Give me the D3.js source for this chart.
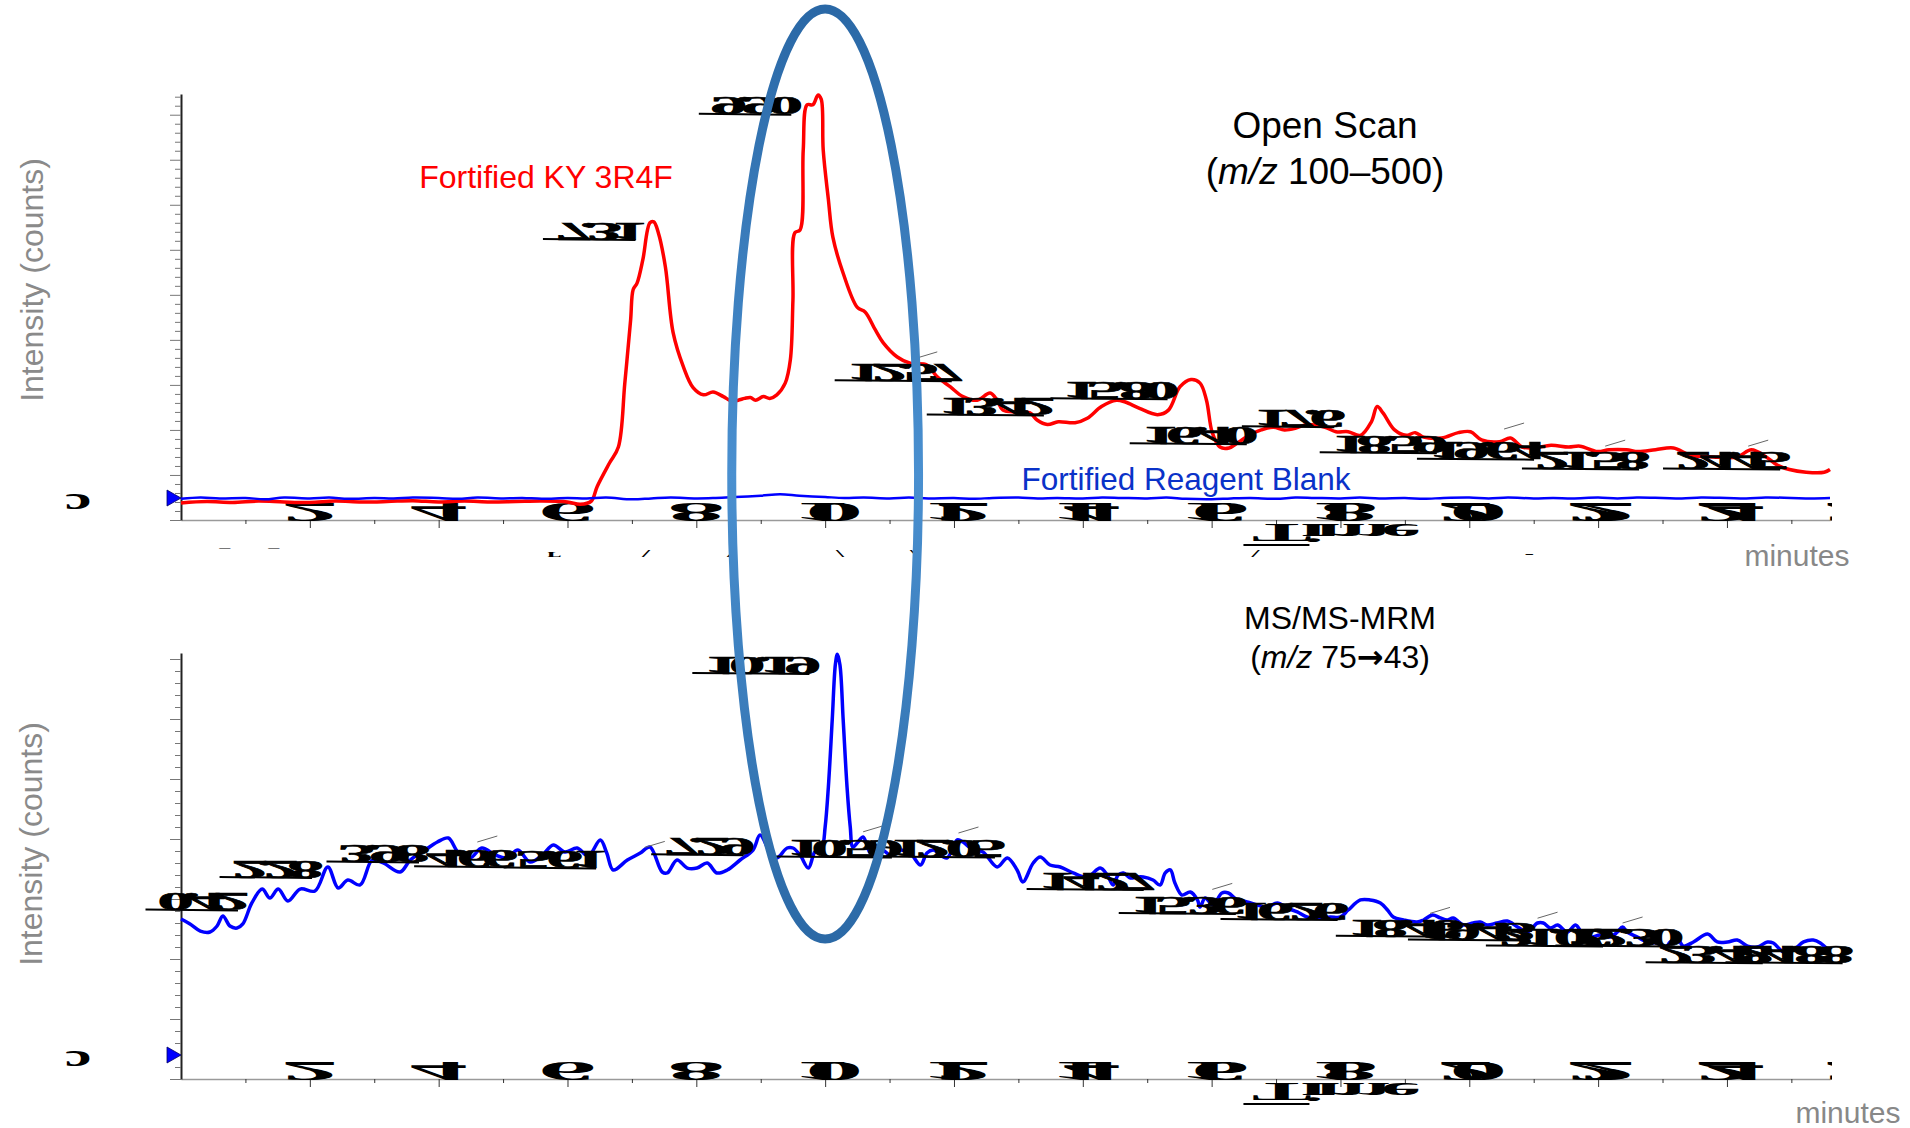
<!DOCTYPE html>
<html>
<head>
<meta charset="utf-8">
<script src="https://cdn.jsdelivr.net/npm/d3@7"></script>
<style>
  body { margin: 0; background: #fff; }
  svg { display: block; font-family: "Liberation Sans", Arial, sans-serif; }
  .garble { font-family: "Liberation Serif", "DejaVu Serif", serif; font-weight: bold; fill: #000; }
</style>
</head>
<body>
<svg id="chart" width="1910" height="1128"></svg>
<script>
// x tick labels (minutes)
const xTickLabels = ["2", "4", "6", "8", "10", "12", "14", "16", "18", "20", "22", "24", "26"];

// Open scan, fortified KY 3R4F  [minutes, intensity]
const openScanSample = [
  [0, 1.9], [0.4, 2.05], [0.8, 1.95], [1.2, 2.1], [1.6, 2.0], [2.0, 1.95], [2.4, 2.1], [2.8, 2.0],
  [3.2, 2.05], [3.6, 2.15], [4.0, 2.0], [4.4, 2.1], [4.8, 2.0], [5.2, 2.05], [5.6, 2.1], [6.0, 2.0],
  [6.2, 1.75], [6.37, 2.1], [6.46, 3.7], [6.65, 6.3], [6.79, 8.1], [6.89, 15.2], [6.98, 22.2],
  [7.02, 25.6], [7.08, 26.3], [7.17, 28.9], [7.28, 33.0], [7.34, 33.1], [7.41, 31.9], [7.52, 28.1],
  [7.64, 20.8], [7.80, 17.0], [7.95, 14.7], [8.11, 13.9], [8.26, 14.2], [8.42, 13.7], [8.55, 13.2],
  [8.65, 13.3], [8.75, 13.5], [8.84, 13.6], [8.92, 13.3], [9.04, 13.7], [9.14, 13.5], [9.25, 13.9],
  [9.38, 15.2], [9.46, 17.8], [9.50, 24.4], [9.53, 31.9], [9.61, 32.2], [9.66, 41.1], [9.72, 46.1],
  [9.81, 46.1], [9.89, 47.2], [9.94, 46.7], [9.97, 41.1], [10.05, 35.6], [10.12, 31.4], [10.28, 27.4],
  [10.50, 23.6], [10.62, 23.1], [10.78, 21.1], [10.90, 19.7], [11.12, 18.1], [11.32, 17.4], [11.58, 17.2],
  [11.74, 15.9], [11.94, 14.8], [12.14, 13.7], [12.36, 13.3], [12.56, 14.1], [12.67, 13.3], [12.76, 12.2],
  [12.98, 12.0], [13.18, 11.9], [13.29, 11.1], [13.45, 10.6], [13.62, 10.9], [13.88, 10.8], [14.07, 11.3],
  [14.29, 12.6], [14.52, 13.3], [14.66, 13.1], [14.88, 12.4], [15.16, 11.7], [15.33, 12.2], [15.51, 14.8],
  [15.68, 15.6], [15.82, 15.2], [15.92, 13.3], [16.01, 9.7], [16.13, 8.1], [16.27, 8.0], [16.41, 8.6],
  [16.58, 9.4], [16.77, 10.0], [16.96, 10.3], [17.13, 10.0], [17.31, 10.2], [17.48, 10.6], [17.76, 10.3],
  [17.93, 9.8], [18.12, 9.8], [18.31, 9.4], [18.48, 10.9], [18.57, 12.6], [18.66, 11.9], [18.84, 10.0],
  [19.02, 9.4], [19.16, 9.7], [19.29, 9.2], [19.57, 9.1], [19.83, 9.7], [20.02, 9.8], [20.19, 8.9],
  [20.47, 8.7], [20.64, 9.1], [20.82, 8.1], [21.01, 8.0], [21.27, 8.3], [21.54, 8.1], [21.72, 8.2],
  [21.99, 7.6], [22.17, 7.8], [22.44, 7.8], [22.62, 7.6], [22.89, 7.8], [23.17, 8.0], [23.43, 7.2],
  [23.79, 7.0], [24.16, 7.0], [24.38, 7.8], [24.61, 7.0], [24.78, 6.1], [24.97, 5.6], [25.23, 5.3],
  [25.51, 5.3], [25.6, 5.6]
];

// Open scan, fortified reagent blank
const openScanBlank = [
  [0, 2.35], [0.3, 2.5], [0.6, 2.4], [1, 2.45], [1.3, 2.3], [1.6, 2.5], [2, 2.4], [2.3, 2.5],
  [2.6, 2.35], [3, 2.45], [3.3, 2.4], [3.6, 2.5], [4, 2.45], [4.3, 2.35], [4.6, 2.5], [5, 2.4],
  [5.3, 2.45], [5.6, 2.35], [6, 2.45], [6.3, 2.4], [6.6, 2.5], [7, 2.3], [7.3, 2.4], [7.6, 2.5],
  [8, 2.4], [8.3, 2.45], [8.6, 2.55], [9, 2.7], [9.3, 2.85], [9.6, 2.7], [10, 2.55], [10.3, 2.45],
  [10.6, 2.5], [11, 2.4], [11.3, 2.5], [11.6, 2.4], [12, 2.45], [12.3, 2.35], [12.6, 2.45], [13, 2.5],
  [13.3, 2.4], [13.6, 2.45], [14, 2.4], [14.3, 2.5], [14.6, 2.45], [15, 2.4], [15.3, 2.5], [15.6, 2.35],
  [16, 2.3], [16.3, 2.4], [16.6, 2.45], [17, 2.35], [17.3, 2.5], [17.6, 2.45], [18, 2.4], [18.3, 2.5],
  [18.6, 2.4], [19, 2.45], [19.3, 2.35], [19.6, 2.45], [20, 2.5], [20.3, 2.4], [20.6, 2.5], [21, 2.4],
  [21.3, 2.45], [21.6, 2.4], [22, 2.5], [22.3, 2.4], [22.6, 2.5], [23, 2.45], [23.3, 2.4], [23.6, 2.5],
  [24, 2.45], [24.3, 2.4], [24.6, 2.5], [25, 2.45], [25.3, 2.4], [25.6, 2.45]
];

// MS/MS-MRM m/z 75 -> 43
const mrmSample = [
  [0, 13.33], [0.14, 12.92], [0.30, 12.33], [0.45, 12.25], [0.56, 12.75], [0.65, 13.58], [0.76, 12.75],
  [0.87, 12.58], [0.96, 12.92], [1.10, 14.67], [1.26, 15.83], [1.38, 15.08], [1.51, 15.83], [1.66, 14.83],
  [1.85, 15.83], [2.08, 15.67], [2.28, 17.67], [2.44, 15.92], [2.59, 16.58], [2.78, 16.17], [2.97, 18.25],
  [3.14, 18.0], [3.40, 17.25], [3.56, 18.25], [3.79, 19.08], [3.98, 19.75], [4.15, 20.08], [4.30, 18.92],
  [4.49, 18.42], [4.67, 19.25], [4.88, 18.67], [5.06, 18.42], [5.23, 19.08], [5.42, 18.08], [5.61, 18.67],
  [5.78, 19.5], [5.96, 18.92], [6.15, 19.25], [6.32, 18.58], [6.51, 19.92], [6.61, 18.83], [6.71, 17.42],
  [6.93, 18.25], [7.13, 18.83], [7.28, 19.33], [7.47, 17.25], [7.55, 17.17], [7.70, 18.25], [7.86, 17.58],
  [8.01, 17.58], [8.17, 18.0], [8.32, 17.17], [8.48, 17.42], [8.68, 18.25], [8.88, 19.08], [8.99, 20.33],
  [9.15, 18.83], [9.25, 18.42], [9.41, 19.25], [9.50, 19.25], [9.61, 18.67], [9.74, 17.58], [9.84, 18.92],
  [9.95, 19.33], [10.0, 21.0], [10.05, 24.33], [10.11, 29.92], [10.16, 34.6], [10.19, 35.4], [10.23, 34.5],
  [10.28, 29.92], [10.34, 24.33], [10.39, 21.0], [10.43, 19.33], [10.51, 19.75], [10.59, 20.17],
  [10.70, 18.83], [10.78, 18.67], [10.89, 19.08], [11.01, 18.67], [11.16, 19.08], [11.32, 18.83],
  [11.48, 17.83], [11.58, 18.83], [11.68, 19.08], [11.89, 18.42], [12.05, 19.92], [12.14, 19.75],
  [12.30, 19.08], [12.45, 18.92], [12.67, 17.67], [12.83, 18.42], [12.98, 17.42], [13.07, 16.42],
  [13.23, 18.0], [13.34, 18.5], [13.49, 17.83], [13.65, 17.67], [13.85, 17.17], [14.07, 16.83],
  [14.27, 17.58], [14.38, 17.0], [14.47, 16.17], [14.55, 17.0], [14.63, 17.17], [14.74, 16.75],
  [14.84, 16.83], [14.94, 16.83], [15.09, 16.58], [15.20, 16.17], [15.28, 17.17], [15.36, 17.42],
  [15.43, 16.33], [15.54, 15.33], [15.67, 15.58], [15.78, 14.92], [15.82, 14.33], [15.90, 15.08],
  [16.02, 14.5], [16.16, 15.5], [16.26, 15.5], [16.40, 14.92], [16.55, 14.75], [16.71, 14.5],
  [16.86, 14.33], [17.02, 14.67], [17.17, 14.25], [17.33, 13.92], [17.48, 13.5], [17.69, 13.42],
  [17.84, 13.5], [18.0, 13.5], [18.12, 14.08], [18.31, 14.92], [18.46, 14.92], [18.62, 14.67],
  [18.73, 14.08], [18.82, 13.5], [18.98, 13.25], [19.19, 13.08], [19.29, 13.25], [19.43, 13.67],
  [19.55, 13.42], [19.66, 13.25], [19.75, 13.42], [19.91, 12.83], [20.06, 13.0], [20.17, 13.08],
  [20.28, 12.83], [20.43, 13.0], [20.59, 13.17], [20.75, 12.67], [20.90, 12.25], [21.06, 13.0],
  [21.15, 13.0], [21.26, 12.58], [21.37, 12.83], [21.52, 12.25], [21.65, 12.83], [21.75, 12.17],
  [21.88, 11.83], [22.03, 12.0], [22.19, 11.83], [22.30, 12.25], [22.38, 12.67], [22.45, 12.25],
  [22.61, 11.83], [22.76, 11.42], [22.92, 11.33], [23.04, 10.92], [23.12, 11.42], [23.23, 11.75],
  [23.32, 11.08], [23.48, 11.42], [23.70, 12.08], [23.85, 11.42], [24.01, 11.42], [24.16, 11.58],
  [24.32, 11.08], [24.47, 11.0], [24.63, 11.42], [24.72, 11.33], [24.88, 10.58], [25.03, 10.75],
  [25.19, 11.42], [25.34, 11.58], [25.45, 11.33], [25.57, 10.75]
];

// peak annotations (retention time at label centre, intensity, text)
const openScanPeakTime = [8.85, 6.43, 11.15, 12.58, 14.50, 15.73, 17.28, 18.68, 20.19, 21.82, 24.01];
const openScanPeakLevel = [46.0, 32.1, 16.4, 12.6, 14.4, 9.4, 11.3, 8.4, 7.7, 6.6, 6.6];
const openScanPeakText = ["9.90", "7.31", "12.57", "13.42", "15.80", "16.40", "17.6", "18.59", "19.64", "21.58", "24.45"];
const openScanLeaders = [[11.43, 18.0], [20.54, 10.1], [22.11, 8.2], [24.33, 8.2]];

const mrmPeakTime = [8.94, 0.26, 1.41, 3.07, 4.43, 5.82, 8.11, 10.22, 11.82, 14.13, 15.56, 17.14, 18.93, 20.05, 21.26, 22.34, 23.74, 24.98];
const mrmPeakLevel = [34.5, 14.8, 17.5, 18.8, 18.4, 18.3, 19.4, 19.2, 19.2, 16.5, 14.5, 14.0, 12.6, 12.3, 11.8, 11.8, 10.4, 10.4];
const mrmPeakText = ["10.19", "0.42", "2.28", "3.98", "4.66", "5.61", "7.29", "10.59", "12.05", "14.27", "15.36", "16.26", "18.46", "19.43", "21.06", "22.30", "23.48", "24.88"];
const mrmLeaders = [[4.6, 19.75], [7.20, 19.3], [10.59, 20.6], [12.07, 20.5], [16.01, 15.8], [19.39, 13.8], [21.06, 13.4], [22.38, 13.0]];

// clipped second row of axis text under the open scan axis
const axisFragmentTime = [0.68, 1.44, 5.79, 7.22, 8.54, 10.23, 11.38, 16.68, 20.93];
const axisFragmentText = ["‾", "‾", "ʟ", "/", "/", "\\", "\\", "/", "-"];

const openScanZero = 2.44;
const mrmZero = 2.0;
const axisTitleTime = 17.86;
const highlightTime = 10.0;
const highlightHalfWidth = 1.45;

const svg = d3.select("#chart");
const defs = svg.append("defs");
defs.append("clipPath").attr("id", "tickClip")
  .append("rect").attr("x", 0).attr("y", 0).attr("width", 1832).attr("height", 1128);

const xScale = d3.scaleLinear().domain([0, 25.6]).range([181, 1830]);

class Chromatogram {

  constructor(_config) {
    this.config = {
      top: _config.top,
      bottom: _config.bottom,
      yMax: _config.yMax,
      zero: _config.zero,
      traces: _config.traces,
      peakTime: _config.peakTime,
      peakLevel: _config.peakLevel,
      peakText: _config.peakText,
      leaders: _config.leaders
    };
    this.initVis();
  }

  initVis() {
    let vis = this;

    vis.g = svg.append("g");

    vis.yScale = d3.scaleLinear()
        .domain([0, vis.config.yMax])
        .range([vis.config.bottom, vis.config.top]);

    vis.yAxis = d3.axisLeft(vis.yScale)
        .tickValues(d3.range(0, vis.config.yMax, 1))
        .tickSize(6)
        .tickSizeOuter(0)
        .tickFormat("");

    vis.xAxis = d3.axisBottom(xScale)
        .tickValues(d3.range(1, 26, 1))
        .tickSize(4)
        .tickSizeOuter(0)
        .tickFormat("");

    vis.xAxisGroup = vis.g.append("g")
        .attr("transform", "translate(0," + vis.config.bottom + ")");
    vis.yAxisGroup = vis.g.append("g")
        .attr("transform", "translate(" + xScale(0) + ",0)");

    vis.line = d3.line()
        .x(d => xScale(d[0]))
        .y(d => vis.yScale(d[1]))
        .curve(d3.curveCatmullRom.alpha(0.5));

    vis.updateVis();
  }

  updateVis() {
    let vis = this;

    // Axes
    vis.xAxisGroup.call(vis.xAxis);
    vis.xAxisGroup.select(".domain").attr("stroke", "#9a9a9a").attr("stroke-width", 1.5);
    vis.xAxisGroup.selectAll(".tick line")
        .attr("stroke", "#333")
        .attr("y2", d => d % 2 === 0 ? 8 : 4);

    vis.yAxisGroup.call(vis.yAxis);
    vis.yAxisGroup.select(".domain").attr("stroke", "#222").attr("stroke-width", 2);
    vis.yAxisGroup.selectAll(".tick line")
        .attr("stroke", "#777")
        .attr("x2", d => d % 5 === 0 ? -11 : -6);

    // Garbled (flipped, overlapped) tick labels
    vis.g.append("g")
        .attr("clip-path", "url(#tickClip)")
      .selectAll("text")
        .data(xTickLabels)
      .enter().append("text")
        .attr("class", "garble")
        .attr("font-size", 27)
        .attr("text-anchor", "middle")
        .attr("dominant-baseline", "central")
        .attr("letter-spacing", d => d.length > 1 ? -10.5 : 0)
        .attr("transform", d => "translate(" + (xScale(+d) + (d.length > 1 ? -20 : 0)) + "," +
              (vis.config.bottom - 8) + ") scale(4.3,-1)")
        .text(d => d);

    // Traces
    vis.g.selectAll(".trace")
        .data(vis.config.traces)
      .enter().append("path")
        .attr("class", "trace")
        .attr("fill", "none")
        .attr("stroke", d => d.color)
        .attr("stroke-width", d => d.width)
        .attr("stroke-linejoin", "round")
        .attr("d", d => vis.line(d.values));

    // Zero marker
    let zy = vis.yScale(vis.config.zero);
    let x0 = xScale(0);
    vis.g.append("path")
        .attr("d", "M" + (x0 - 14) + "," + (zy - 8) + "L" + x0 + "," + zy + "L" + (x0 - 14) + "," + (zy + 8) + "Z")
        .attr("fill", "#0000ff")
        .attr("stroke", "#000066")
        .attr("stroke-width", 0.8);
    vis.g.append("text")
        .attr("class", "garble")
        .attr("font-size", 40)
        .attr("text-anchor", "middle")
        .attr("dominant-baseline", "central")
        .attr("transform", "translate(" + (x0 - 103) + "," + zy + ") scale(1.5,0.8)")
        .text("ɔ");

    // Leader lines
    vis.g.selectAll(".leader")
        .data(vis.config.leaders)
      .enter().append("line")
        .attr("class", "leader")
        .attr("x1", d => xScale(d[0]))
        .attr("y1", d => vis.yScale(d[1]))
        .attr("x2", d => xScale(d[0]) + 20)
        .attr("y2", d => vis.yScale(d[1]) - 6)
        .attr("stroke", "#666")
        .attr("stroke-width", 1);

    // Peak labels
    vis.config.peakText.forEach((s, i) => {
      let cx = xScale(vis.config.peakTime[i]);
      let cy = vis.yScale(vis.config.peakLevel[i]);
      let t = vis.g.append("text")
          .attr("class", "garble")
          .attr("font-size", 25)
          .attr("text-anchor", "middle")
          .attr("dominant-baseline", "central")
          .attr("letter-spacing", -4)
          .attr("stroke", "#000")
          .attr("stroke-width", 0.6)
          .attr("transform", "translate(" + cx + "," + cy + ") scale(2.9,-1)")
          .text(s);
      let w = t.node().getComputedTextLength() * 2.9;
      vis.g.append("line")
          .attr("x1", cx - w / 2 - 12)
          .attr("y1", cy + 8)
          .attr("x2", cx + w / 2)
          .attr("y2", cy + 9)
          .attr("stroke", "#000")
          .attr("stroke-width", 2);
    });

    // Garbled axis title
    let ty = vis.config.bottom + 13;
    let tx = xScale(axisTitleTime);
    vis.g.append("text")
        .attr("class", "garble")
        .attr("font-size", 28)
        .attr("text-anchor", "middle")
        .attr("dominant-baseline", "central")
        .attr("letter-spacing", -3)
        .attr("transform", "translate(" + tx + "," + ty + ") scale(3.2,-0.9)")
        .text("Time");
    vis.g.append("line")
        .attr("x1", tx - 88).attr("y1", ty + 12)
        .attr("x2", tx - 22).attr("y2", ty + 12)
        .attr("stroke", "#000").attr("stroke-width", 2);
  }
}

const openScan = new Chromatogram({
  top: 94, bottom: 520, yMax: 47.3, zero: openScanZero,
  traces: [
    { values: openScanSample, color: "#ff0000", width: 3.5 },
    { values: openScanBlank, color: "#0000ff", width: 2.5 }
  ],
  peakTime: openScanPeakTime, peakLevel: openScanPeakLevel, peakText: openScanPeakText,
  leaders: openScanLeaders
});

const mrm = new Chromatogram({
  top: 653, bottom: 1079, yMax: 35.5, zero: mrmZero,
  traces: [ { values: mrmSample, color: "#0000ff", width: 3.5 } ],
  peakTime: mrmPeakTime, peakLevel: mrmPeakLevel, peakText: mrmPeakText,
  leaders: mrmLeaders
});

// clipped fragments under the open scan axis
svg.append("g").selectAll("text")
    .data(axisFragmentText)
  .enter().append("text")
    .attr("class", "garble")
    .attr("font-size", 18)
    .attr("text-anchor", "middle")
    .attr("dominant-baseline", "central")
    .attr("transform", (d, i) => "translate(" + xScale(axisFragmentTime[i]) + ",554) scale(1.6,0.6)")
    .text(d => d);

// Titles and labels
svg.append("text")
    .attr("x", 1325).attr("y", 125)
    .attr("text-anchor", "middle").attr("dominant-baseline", "central")
    .attr("font-size", 37).attr("fill", "#000")
    .text("Open Scan");
const title1b = svg.append("text")
    .attr("x", 1325).attr("y", 171)
    .attr("text-anchor", "middle").attr("dominant-baseline", "central")
    .attr("font-size", 37).attr("fill", "#000");
title1b.append("tspan").text("(");
title1b.append("tspan").attr("font-style", "italic").text("m/z");
title1b.append("tspan").text(" 100–500)");

svg.append("text")
    .attr("x", 1340).attr("y", 618)
    .attr("text-anchor", "middle").attr("dominant-baseline", "central")
    .attr("font-size", 32).attr("fill", "#000")
    .text("MS/MS-MRM");
const title2b = svg.append("text")
    .attr("x", 1340).attr("y", 657)
    .attr("text-anchor", "middle").attr("dominant-baseline", "central")
    .attr("font-size", 32).attr("fill", "#000");
title2b.append("tspan").text("(");
title2b.append("tspan").attr("font-style", "italic").text("m/z");
title2b.append("tspan").text(" 75");
title2b.append("tspan").attr("font-family", "DejaVu Sans").attr("font-weight", "bold").text("→");
title2b.append("tspan").text("43)");

svg.append("text")
    .attr("x", 546).attr("y", 177)
    .attr("text-anchor", "middle").attr("dominant-baseline", "central")
    .attr("font-size", 32).attr("fill", "#ff0000")
    .text("Fortified KY 3R4F");

svg.append("text")
    .attr("x", 1186).attr("y", 479)
    .attr("text-anchor", "middle").attr("dominant-baseline", "central")
    .attr("font-size", 31.5).attr("fill", "#0a32c8")
    .text("Fortified Reagent Blank");

[[32, 280], [31, 844]].forEach(p => {
  svg.append("text")
      .attr("transform", "translate(" + p[0] + "," + p[1] + ") rotate(-90)")
      .attr("text-anchor", "middle").attr("dominant-baseline", "central")
      .attr("font-size", 32).attr("fill", "#8a8a8a")
      .text("Intensity (counts)");
});

[[1797, 555], [1848, 1112]].forEach(p => {
  svg.append("text")
      .attr("x", p[0]).attr("y", p[1])
      .attr("text-anchor", "middle").attr("dominant-baseline", "central")
      .attr("font-size", 30).attr("fill", "#888")
      .text("minutes");
});

// Highlight ellipse around the 10 min peak
const grad = defs.append("linearGradient")
    .attr("id", "ringGrad")
    .attr("gradientUnits", "userSpaceOnUse")
    .attr("x1", 0).attr("y1", 9).attr("x2", 0).attr("y2", 940);
grad.append("stop").attr("offset", "0%").attr("stop-color", "#2a68a6");
grad.append("stop").attr("offset", "50%").attr("stop-color", "#4a90d0");
grad.append("stop").attr("offset", "100%").attr("stop-color", "#2b69a6");

svg.append("ellipse")
    .attr("cx", xScale(highlightTime))
    .attr("cy", 474)
    .attr("rx", xScale(highlightTime + highlightHalfWidth) - xScale(highlightTime))
    .attr("ry", 465)
    .attr("fill", "none")
    .attr("stroke", "url(#ringGrad)")
    .attr("stroke-width", 9);
</script>
</body>
</html>
